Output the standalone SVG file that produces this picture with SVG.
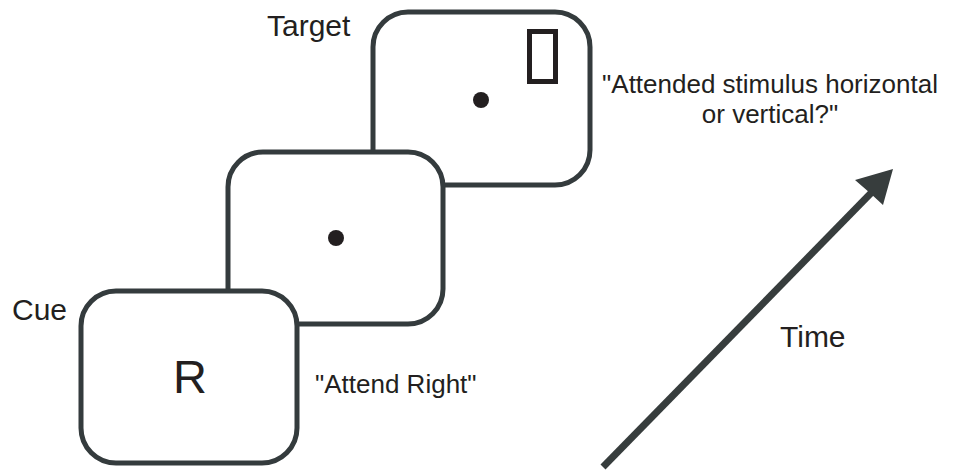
<svg xmlns="http://www.w3.org/2000/svg" width="953" height="473" viewBox="0 0 953 473">
<style>
.frame{fill:#fff;stroke:#343b3d;stroke-width:5}
.lbl{font-family:"Liberation Sans",Arial,sans-serif;fill:#231f20}
.dot{fill:#231f20}
</style>
<rect width="953" height="473" fill="#fff"/>
<g id="target">
<rect class="frame" x="373" y="12" width="217" height="173" rx="35"/>
<circle class="dot" cx="481" cy="100" r="8"/>
<rect x="529.5" y="31.5" width="26" height="50" fill="none" stroke="#231f20" stroke-width="5"/>
<text class="lbl" x="267" y="36" font-size="30">Target</text>
<text class="lbl" x="770" y="93" font-size="26" text-anchor="middle">"Attended stimulus horizontal</text>
<text class="lbl" x="770" y="123" font-size="26" text-anchor="middle">or vertical?"</text>
</g>
<g id="delay">
<rect class="frame" x="228" y="152" width="215" height="172" rx="35"/>
<circle class="dot" cx="336" cy="238" r="8"/>
</g>
<g id="cue">
<rect class="frame" x="81" y="291" width="216" height="172" rx="35"/>
<text class="lbl" x="190" y="393" font-size="47" text-anchor="middle">R</text>
<text class="lbl" x="12" y="320" font-size="30">Cue</text>
<text class="lbl" x="315" y="393" font-size="26">"Attend Right"</text>
</g>
<g id="connectors">
<line x1="603" y1="467" x2="873" y2="191" stroke="#373d3d" stroke-width="7"/>
<polygon points="893,169 855,180 870,193 883,205" fill="#373d3d"/>
<text class="lbl" x="780" y="347" font-size="30">Time</text>
</g>
</svg>
